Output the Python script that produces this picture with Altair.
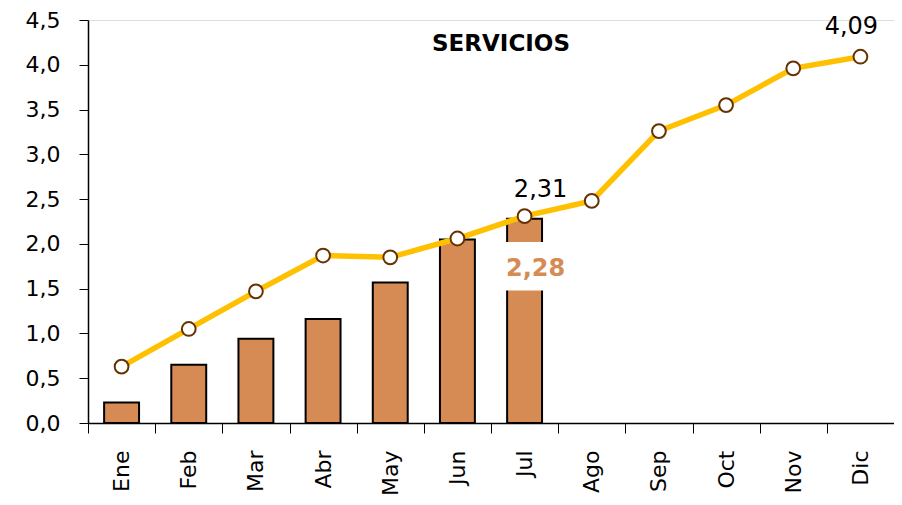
import altair as alt
import pandas as pd

months = ["Ene", "Feb", "Mar", "Abr", "May", "Jun", "Jul", "Ago", "Sep", "Oct", "Nov", "Dic"]
line_values = [0.63, 1.05, 1.47, 1.87, 1.85, 2.06, 2.31, 2.48, 3.26, 3.55, 3.96, 4.09]
bar_months = ["Ene", "Feb", "Mar", "Abr", "May", "Jun", "Jul"]
bar_values = [0.23, 0.65, 0.94, 1.16, 1.57, 2.05, 2.28]
y_ticks = [0.0, 0.5, 1.0, 1.5, 2.0, 2.5, 3.0, 3.5, 4.0, 4.5]

line_df = pd.DataFrame({"mes": months, "v": line_values})
bar_df = pd.DataFrame({"mes": bar_months, "v": bar_values})

FONT = "DejaVu Sans"
BAR = "#D68B55"
LINE = "#FFC000"

xscale = alt.Scale(domain=months, paddingInner=0, paddingOuter=0)
yscale = alt.Scale(domain=[0, 4.5], nice=False)

x_enc = alt.X("mes:N", scale=xscale, sort=months, title=None,
              axis=alt.Axis(labelAngle=-90, labelFont=FONT, labelFontSize=22, labelColor="black",
                            labelAlign="right", labelBaseline="middle", labelPadding=17,
                            tickBand="extent", tickSize=10, tickColor="black", tickWidth=1,
                            domainColor="black", domainWidth=1.5, grid=False))
y_enc = alt.Y("v:Q", scale=yscale, title=None,
              axis=alt.Axis(values=y_ticks, labelExpr="replace(format(datum.value, '.1f'), '.', ',')",
                            labelFont=FONT, labelFontSize=22, labelColor="black", labelPadding=19,
                            tickSize=9, tickColor="black", domainColor="black", domainWidth=1.5,
                            grid=False))

bars = alt.Chart(bar_df).mark_bar(
    width=alt.RelativeBandSize(0.52), color=BAR, stroke="black", strokeWidth=2
).encode(x=x_enc, y=y_enc)

last_bar = bar_df.tail(1)
box = alt.Chart(last_bar).transform_calculate(
    top="datum.v - 0.26", bot="datum.v - 0.8"
).mark_bar(width=alt.RelativeBandSize(0.62), color="white").encode(
    x=alt.X("mes:N", scale=xscale, sort=months),
    y=alt.Y("top:Q", scale=yscale),
    y2="bot:Q",
)

line = alt.Chart(line_df).mark_line(color=LINE, strokeWidth=5.5).encode(
    x=alt.X("mes:N", scale=xscale, sort=months), y=alt.Y("v:Q", scale=yscale))

points = alt.Chart(line_df).mark_point(
    shape="circle", filled=True, fill="white", stroke="#663300", strokeWidth=2, size=190, opacity=1
).encode(x=alt.X("mes:N", scale=xscale, sort=months), y=alt.Y("v:Q", scale=yscale))

def label(df, dx, dy, color, weight, size):
    return alt.Chart(df).transform_calculate(
        lab="replace(format(datum.v, '.2f'), '.', ',')"
    ).mark_text(dx=dx, dy=dy, color=color, fontWeight=weight, fontSize=size, font=FONT,
                align="center", baseline="middle").encode(
        x=alt.X("mes:N", scale=xscale, sort=months),
        y=alt.Y("v:Q", scale=yscale),
        text="lab:N")

lab_jul = label(line_df[line_df.mes == "Jul"], 16, -26, "black", "normal", 24)
lab_dic = label(line_df[line_df.mes == "Dic"], -9, -30, "black", "normal", 24)
lab_bar = label(last_bar, 11, 50, BAR, "bold", 24)

chart = alt.layer(bars, box, line, points, lab_jul, lab_dic, lab_bar).properties(
    width=806, height=403,
    title=alt.TitleParams("SERVICIOS", font=FONT, fontSize=23, fontWeight="bold", color="black",
                          anchor="middle", dx=10, dy=51),
    autosize=alt.AutoSizeParams(type="none"),
    padding={"left": 80, "top": 12, "right": 0, "bottom": 74},
).configure_view(stroke=None).configure(background="white")

chart.save("out.html", embed_options={"renderer": "svg", "actions": False})
